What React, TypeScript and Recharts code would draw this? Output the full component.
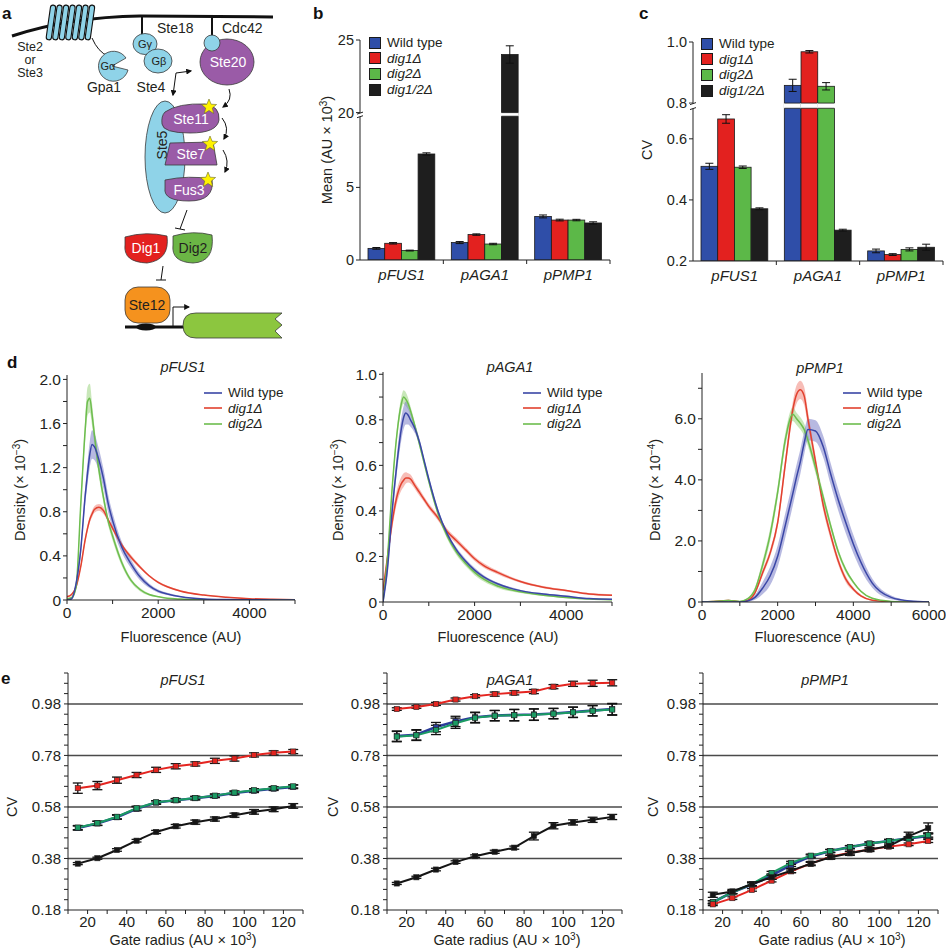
import React from 'react';
import {
  BarChart, Bar, XAxis, YAxis, ErrorBar, Legend, ComposedChart, Area, Line, LineChart, ReferenceLine,
} from 'recharts';

const FONT = '"Liberation Sans", Arial, Helvetica, sans-serif';
const TXT = '#231f20';

// ---------------- panels b & c ----------------
const promoters = ['pFUS1', 'pAGA1', 'pPMP1'];
const strainNames = ['Wild type', 'dig1Δ', 'dig2Δ', 'dig1/2Δ'];
const barColors = ['#2f4ea8', '#e3211f', '#5cb848', '#1e1e1e'];

const meanWT = [0.8, 1.2, 3.0];
const meanDig1 = [1.15, 1.75, 2.75];
const meanDig2 = [0.65, 1.1, 2.75];
const meanDig12 = [7.3, 24.0, 2.55];
const meanErrWT = [0.06, 0.07, 0.1];
const meanErrDig1 = [0.05, 0.05, 0.06];
const meanErrDig2 = [0.03, 0.05, 0.05];
const meanErrDig12 = [0.08, 0.6, 0.08];
const meanTickLabels = [0, 5, 20, 25];

const cvWT = [0.51, 0.858, 0.233];
const cvDig1 = [0.665, 0.968, 0.221];
const cvDig2 = [0.507, 0.855, 0.238];
const cvDig12 = [0.371, 0.301, 0.245];
const cvErrWT = [0.01, 0.02, 0.006];
const cvErrDig1 = [0.014, 0.004, 0.003];
const cvErrDig2 = [0.004, 0.012, 0.005];
const cvErrDig12 = [0.003, 0.003, 0.01];
const cvTickLabels = [0.2, 0.4, 0.6, 0.8, 1.0];

// broken axes
const B_OFF = 9.85; // values >= 20 are shifted down by this
const B_GAP_LO = 9.9;
const B_GAP_HI = 10.15;
const brkB = (v: number) => (v >= 20 ? v - B_OFF : v);
const C_OFF = 0.083;
const C_GAP_LO = 0.7;
const C_GAP_HI = 0.717;
const brkC = (v: number) => (v >= 0.8 ? v - C_OFF : v);

const keys = ['wt', 'd1', 'd2', 'd12'];

const rowsB = promoters.map((p, i) => ({
  p,
  wt: brkB(meanWT[i]), wtE: meanErrWT[i],
  d1: brkB(meanDig1[i]), d1E: meanErrDig1[i],
  d2: brkB(meanDig2[i]), d2E: meanErrDig2[i],
  d12: brkB(meanDig12[i]), d12E: meanErrDig12[i],
}));
const rowsC = promoters.map((p, i) => ({
  p,
  wt: brkC(cvWT[i]), wtE: cvErrWT[i],
  d1: brkC(cvDig1[i]), d1E: cvErrDig1[i],
  d2: brkC(cvDig2[i]), d2E: cvErrDig2[i],
  d12: brkC(cvDig12[i]), d12E: cvErrDig12[i],
}));

// ---------------- panel d ----------------
const densNames = ['Wild type', 'dig1Δ', 'dig2Δ'];
const densColors = ['#3a46a6', '#e2412f', '#6dbd4e'];
const densBand = ['#6f74c4', '#ef7b70', '#92cf73'];

const fusX = [0, 100, 200, 300, 400, 450, 500, 550, 600, 700, 800, 900, 1000, 1200, 1400, 1600, 1800, 2000, 2200, 2500, 3000, 3500, 4000, 4500, 5000];
const fusWT = [0, 0.01, 0.15, 0.45, 0.95, 1.15, 1.32, 1.41, 1.39, 1.27, 1.1, 0.88, 0.72, 0.48, 0.33, 0.21, 0.13, 0.08, 0.055, 0.03, 0.01, 0.004, 0.002, 0.001, 0];
const fusWTbw = [0, 0.01, 0.03, 0.05, 0.08, 0.1, 0.12, 0.13, 0.12, 0.1, 0.09, 0.08, 0.07, 0.05, 0.04, 0.03, 0.02, 0.015, 0.01, 0.005, 0.003, 0, 0, 0, 0];
const fusD1 = [0.03, 0.05, 0.12, 0.3, 0.55, 0.65, 0.73, 0.78, 0.82, 0.84, 0.81, 0.73, 0.65, 0.5, 0.39, 0.3, 0.22, 0.16, 0.12, 0.08, 0.045, 0.025, 0.012, 0.006, 0.003];
const fusD1bw = [0.01, 0.01, 0.02, 0.02, 0.03, 0.03, 0.03, 0.03, 0.03, 0.03, 0.03, 0.02, 0.02, 0.02, 0.02, 0.015, 0.01, 0.01, 0.01, 0.008, 0.005, 0.004, 0.003, 0.002, 0.002];
const fusD2 = [0.01, 0.02, 0.12, 0.85, 1.55, 1.8, 1.83, 1.68, 1.5, 1.18, 0.93, 0.72, 0.58, 0.34, 0.18, 0.095, 0.05, 0.03, 0.015, 0.008, 0.003, 0.001, 0, 0, 0];
const fusD2bw = [0, 0.01, 0.03, 0.06, 0.09, 0.13, 0.13, 0.1, 0.08, 0.06, 0.05, 0.04, 0.04, 0.03, 0.02, 0.015, 0.01, 0.005, 0, 0, 0, 0, 0, 0, 0];

const agaX = [0, 100, 200, 300, 400, 450, 500, 550, 600, 700, 800, 900, 1000, 1200, 1400, 1600, 1800, 2000, 2200, 2500, 3000, 3500, 4000, 4500, 5000];
const agaWT = [0, 0.15, 0.4, 0.6, 0.76, 0.81, 0.83, 0.82, 0.8, 0.76, 0.7, 0.62, 0.54, 0.4, 0.3, 0.23, 0.18, 0.14, 0.11, 0.08, 0.05, 0.035, 0.025, 0.015, 0.012];
const agaWTbw = [0, 0.02, 0.03, 0.04, 0.05, 0.05, 0.05, 0.04, 0.03, 0.02, 0.015, 0.01, 0.01, 0.01, 0.01, 0.01, 0.01, 0.01, 0.008, 0.006, 0.004, 0.003, 0.003, 0.002, 0.002];
const agaD1 = [0.05, 0.2, 0.35, 0.46, 0.52, 0.535, 0.545, 0.545, 0.54, 0.51, 0.48, 0.45, 0.42, 0.37, 0.31, 0.27, 0.23, 0.19, 0.16, 0.13, 0.09, 0.065, 0.05, 0.035, 0.03];
const agaD1bw = [0.01, 0.02, 0.03, 0.03, 0.03, 0.03, 0.025, 0.02, 0.02, 0.015, 0.015, 0.012, 0.012, 0.012, 0.012, 0.012, 0.01, 0.01, 0.01, 0.008, 0.006, 0.005, 0.004, 0.004, 0.004];
const agaD2 = [0, 0.2, 0.5, 0.73, 0.87, 0.9, 0.89, 0.87, 0.84, 0.77, 0.69, 0.61, 0.53, 0.39, 0.29, 0.22, 0.17, 0.13, 0.1, 0.07, 0.045, 0.03, 0.02, 0.013, 0.01];
const agaD2bw = [0, 0.02, 0.02, 0.025, 0.03, 0.03, 0.03, 0.025, 0.02, 0.015, 0.015, 0.012, 0.012, 0.012, 0.012, 0.012, 0.012, 0.012, 0.01, 0.008, 0.006, 0.004, 0.003, 0.002, 0.002];

const pmpX = [0, 500, 700, 1000, 1200, 1400, 1600, 1800, 2000, 2200, 2400, 2500, 2600, 2700, 2800, 3000, 3200, 3400, 3600, 3800, 4000, 4200, 4500, 5000, 5500, 6000];
const pmpWT = [0, 0, 0, 0, 0.03, 0.15, 0.45, 0.85, 1.5, 2.5, 3.55, 4.1, 4.6, 5.2, 5.65, 5.6, 5.1, 4.2, 3.35, 2.6, 1.9, 1.3, 0.62, 0.15, 0.03, 0];
const pmpWTbw = [0, 0, 0, 0, 0.02, 0.08, 0.2, 0.3, 0.35, 0.4, 0.4, 0.4, 0.4, 0.38, 0.35, 0.35, 0.35, 0.35, 0.35, 0.35, 0.3, 0.25, 0.15, 0.06, 0.02, 0];
const pmpD1 = [0, 0.03, 0.05, 0.01, 0.05, 0.3, 0.95, 1.6, 2.6, 4.5, 6.3, 6.8, 6.95, 6.75, 6.0, 4.6, 3.2, 2.2, 1.35, 0.75, 0.42, 0.2, 0.06, 0.01, 0, 0];
const pmpD1bw = [0, 0.02, 0.02, 0.01, 0.02, 0.05, 0.1, 0.12, 0.15, 0.2, 0.25, 0.3, 0.3, 0.3, 0.25, 0.2, 0.18, 0.15, 0.12, 0.1, 0.06, 0.04, 0.02, 0, 0, 0];
const pmpD2 = [0, 0.03, 0.05, 0.02, 0.1, 0.4, 1.2, 2.2, 3.6, 5.3, 6.15, 6.0, 5.85, 5.65, 5.3, 4.4, 3.45, 2.5, 1.65, 1.05, 0.65, 0.35, 0.12, 0.02, 0, 0];
const pmpD2bw = [0, 0.02, 0.02, 0.01, 0.03, 0.08, 0.15, 0.2, 0.2, 0.22, 0.22, 0.2, 0.2, 0.2, 0.2, 0.18, 0.15, 0.12, 0.1, 0.08, 0.05, 0.03, 0.02, 0, 0, 0];

// ---------------- panel e ----------------
const gate = [15, 25, 35, 45, 55, 65, 75, 85, 95, 105, 115, 125];
const eColors = ['#2b3c9a', '#e42520', '#1b9b63', '#151515'];
const eMajorTicks = [0.18, 0.38, 0.58, 0.78, 0.98];
const eGrid = [0.38, 0.58, 0.78, 0.98];

const eFusWT = [0.498, 0.516, 0.54, 0.573, 0.597, 0.606, 0.614, 0.623, 0.634, 0.643, 0.651, 0.658];
const eFusD1 = [0.653, 0.663, 0.684, 0.704, 0.724, 0.738, 0.747, 0.759, 0.768, 0.782, 0.79, 0.795];
const eFusD2 = [0.5, 0.517, 0.542, 0.575, 0.598, 0.606, 0.615, 0.624, 0.636, 0.645, 0.653, 0.66];
const eFusD12 = [0.36, 0.381, 0.413, 0.449, 0.483, 0.505, 0.521, 0.533, 0.548, 0.561, 0.571, 0.584];
const eFusErrWT = [0.008, 0.008, 0.008, 0.008, 0.007, 0.007, 0.007, 0.007, 0.007, 0.007, 0.007, 0.007];
const eFusErrD1 = [0.02, 0.016, 0.012, 0.01, 0.01, 0.01, 0.008, 0.01, 0.01, 0.008, 0.008, 0.008];
const eFusErrD2 = [0.008, 0.008, 0.008, 0.008, 0.006, 0.006, 0.006, 0.006, 0.006, 0.006, 0.006, 0.006];
const eFusErrD12 = [0.004, 0.004, 0.005, 0.005, 0.006, 0.007, 0.008, 0.008, 0.008, 0.009, 0.009, 0.009];

const eAgaWT = [0.855, 0.86, 0.89, 0.912, 0.928, 0.935, 0.937, 0.939, 0.943, 0.948, 0.954, 0.96];
const eAgaD1 = [0.96, 0.968, 0.98, 0.997, 1.01, 1.018, 1.023, 1.028, 1.047, 1.058, 1.06, 1.062];
const eAgaD2 = [0.853, 0.858, 0.879, 0.905, 0.926, 0.934, 0.936, 0.938, 0.942, 0.947, 0.953, 0.958];
const eAgaD12 = [0.283, 0.307, 0.337, 0.366, 0.389, 0.406, 0.422, 0.467, 0.507, 0.52, 0.53, 0.541];
const eAgaErrWT = [0.02, 0.02, 0.018, 0.02, 0.02, 0.02, 0.022, 0.022, 0.02, 0.02, 0.02, 0.022];
const eAgaErrD1 = [0.005, 0.005, 0.006, 0.006, 0.006, 0.008, 0.008, 0.008, 0.008, 0.01, 0.012, 0.012];
const eAgaErrD2 = [0.02, 0.02, 0.018, 0.02, 0.02, 0.02, 0.022, 0.022, 0.02, 0.02, 0.02, 0.022];
const eAgaErrD12 = [0.004, 0.004, 0.005, 0.005, 0.005, 0.006, 0.006, 0.015, 0.012, 0.01, 0.01, 0.01];

const ePmpWT = [0.21, 0.249, 0.279, 0.314, 0.355, 0.388, 0.409, 0.424, 0.438, 0.448, 0.458, 0.467];
const ePmpD1 = [0.202, 0.226, 0.258, 0.294, 0.33, 0.36, 0.387, 0.402, 0.415, 0.426, 0.435, 0.448];
const ePmpD2 = [0.21, 0.249, 0.281, 0.324, 0.363, 0.391, 0.409, 0.424, 0.438, 0.448, 0.458, 0.471];
const ePmpD12 = [0.239, 0.252, 0.281, 0.307, 0.333, 0.36, 0.385, 0.4, 0.415, 0.428, 0.467, 0.498];
const ePmpErrWT = [0.006, 0.006, 0.006, 0.006, 0.006, 0.006, 0.006, 0.006, 0.006, 0.006, 0.006, 0.008];
const ePmpErrD1 = [0.005, 0.005, 0.005, 0.005, 0.005, 0.005, 0.005, 0.005, 0.005, 0.005, 0.005, 0.006];
const ePmpErrD2 = [0.006, 0.006, 0.006, 0.006, 0.006, 0.006, 0.006, 0.006, 0.006, 0.006, 0.006, 0.008];
const ePmpErrD12 = [0.01, 0.008, 0.008, 0.008, 0.008, 0.008, 0.008, 0.008, 0.008, 0.008, 0.015, 0.02];

// ---------------- helpers ----------------
const clampLo = (v: number) => (v < 0 ? 0 : v);
function densRows(xs: number[], wt: number[], wtb: number[], d1: number[], d1b: number[], d2: number[], d2b: number[]) {
  return xs.map((x, i) => ({
    x,
    wt: wt[i], wtB: [clampLo(wt[i] - wtb[i]), wt[i] + wtb[i]],
    d1: d1[i], d1B: [clampLo(d1[i] - d1b[i]), d1[i] + d1b[i]],
    d2: d2[i], d2B: [clampLo(d2[i] - d2b[i]), d2[i] + d2b[i]],
  }));
}
const rowsDFus = densRows(fusX, fusWT, fusWTbw, fusD1, fusD1bw, fusD2, fusD2bw);
const rowsDAga = densRows(agaX, agaWT, agaWTbw, agaD1, agaD1bw, agaD2, agaD2bw);
const rowsDPmp = densRows(pmpX, pmpWT, pmpWTbw, pmpD1, pmpD1bw, pmpD2, pmpD2bw);

function eRows(wt: number[], d1: number[], d2: number[], d12: number[], ewt: number[], ed1: number[], ed2: number[], ed12: number[]) {
  return gate.map((g, i) => ({
    g, wt: wt[i], wtE: ewt[i], d1: d1[i], d1E: ed1[i], d2: d2[i], d2E: ed2[i], d12: d12[i], d12E: ed12[i],
  }));
}
const rowsEFus = eRows(eFusWT, eFusD1, eFusD2, eFusD12, eFusErrWT, eFusErrD1, eFusErrD2, eFusErrD12);
const rowsEAga = eRows(eAgaWT, eAgaD1, eAgaD2, eAgaD12, eAgaErrWT, eAgaErrD1, eAgaErrD2, eAgaErrD12);
const rowsEPmp = eRows(ePmpWT, ePmpD1, ePmpD2, ePmpD12, ePmpErrWT, ePmpErrD1, ePmpErrD2, ePmpErrD12);

const axisStroke = { stroke: '#222', strokeWidth: 1 };

function makeBreakYTick(pos: number[], labels: string[], breakPos: number, gapPx: number) {
  return (props: any) => {
    const { x, y, payload } = props;
    const i = pos.findIndex((p) => Math.abs(p - payload.value) < 1e-6);
    const ax = x + 6;
    const isBreak = Math.abs(payload.value - breakPos) < 1e-6;
    return (
      <g>
        <text x={x} y={y} dy="0.35em" textAnchor="end" fontSize={14.5} fill={TXT} fontFamily={FONT}>{i >= 0 ? labels[i] : ''}</text>
        {isBreak && (
          <g>
            <rect x={ax - 3} y={y + 0.5} width={6} height={gapPx} fill="#fff" />
            <path d={`M${ax - 3},${y + 1.5} L${ax + 3},${y - 0.5}`} stroke="#222" strokeWidth={1} />
            <path d={`M${ax - 3},${y + gapPx + 1.5} L${ax + 3},${y + gapPx - 0.5}`} stroke="#222" strokeWidth={1} />
          </g>
        )}
      </g>
    );
  };
}

const BAND = 250 / 3;
const catTick = (props: any) => {
  const { x, y, payload, index } = props;
  return (
    <g>
      <text x={x} y={y + 20} textAnchor="middle" fontStyle="italic" fontSize={15} fill={TXT} fontFamily={FONT}>{payload.value}</text>
      {index > 0 && <line x1={x - BAND / 2} x2={x - BAND / 2} y1={y} y2={y + 4} stroke="#222" strokeWidth={1} />}
      {index === 2 && <line x1={x + BAND / 2} x2={x + BAND / 2} y1={y} y2={y + 4} stroke="#222" strokeWidth={1} />}
    </g>
  );
};

function makeBreakShape(key: string, base: number, lo: number, hi: number) {
  return (props: any) => {
    const { x, y, width, height, fill, payload } = props;
    const v = payload[key];
    const parts: any[] = [
      <rect key="r" x={x} y={y} width={width} height={height} fill={fill} stroke="#1a1a1a" strokeWidth={0.8} />,
    ];
    if (v > hi && height > 0) {
      const ppu = height / (v - base);
      const yb = y + height - (lo - base) * ppu;
      const yt = y + height - (hi - base) * ppu;
      parts.push(<rect key="g" x={x - 0.6} y={yt} width={width + 1.2} height={yb - yt} fill="#fff" />);
      parts.push(<line key="l1" x1={x} x2={x + width} y1={yt} y2={yt} stroke="#1a1a1a" strokeWidth={0.8} />);
      parts.push(<line key="l2" x1={x} x2={x + width} y1={yb} y2={yb} stroke="#1a1a1a" strokeWidth={0.8} />);
    }
    return <g>{parts}</g>;
  };
}

const LEG_FS = 13.5;
const LEG_ROW = 15.6;

const SquareLegend = () => (
  <div style={{ fontFamily: FONT, fontSize: LEG_FS, color: TXT }}>
    {strainNames.map((n, i) => (
      <div key={n} style={{ display: 'flex', alignItems: 'center', height: LEG_ROW }}>
        <span style={{ display: 'inline-block', width: 10, height: 10, background: barColors[i], border: '0.8px solid #1a1a1a', marginRight: 6 }} />
        <span style={{ fontStyle: i === 0 ? 'normal' : 'italic', lineHeight: `${LEG_ROW}px` }}>{n}</span>
      </div>
    ))}
  </div>
);

const LineLegend = () => (
  <div style={{ fontFamily: FONT, fontSize: LEG_FS, color: TXT }}>
    {densNames.map((n, i) => (
      <div key={n} style={{ display: 'flex', alignItems: 'center', height: LEG_ROW }}>
        <svg width={18} height={4} style={{ marginRight: 6, display: 'block' }}>
          <line x1={0} y1={2} x2={18} y2={2} stroke={densColors[i]} strokeWidth={1.6} />
        </svg>
        <span style={{ fontStyle: i === 0 ? 'normal' : 'italic', lineHeight: `${LEG_ROW}px` }}>{n}</span>
      </div>
    ))}
  </div>
);

// ---------------- charts ----------------
function BarPanel({ rows, domain, tickPos, tickLabels, breakPos, gapPx, base, lo, hi, width, height, margin, yWidth, legendPos }: any) {
  return (
    <BarChart width={width} height={height} data={rows} margin={margin} barGap={0} barCategoryGap={0}>
      <XAxis dataKey="p" height={30} tickSize={0} tickMargin={0} tickLine={false} axisLine={axisStroke} tick={catTick} interval={0} />
      <YAxis width={yWidth} type="number" domain={domain} ticks={tickPos} interval={0} allowDataOverflow
        tickSize={4} tickMargin={2} tickLine={axisStroke} axisLine={axisStroke}
        tick={makeBreakYTick(tickPos, tickLabels, breakPos, gapPx)} />
      {keys.map((k, i) => (
        <Bar key={k} dataKey={k} fill={barColors[i]} barSize={16.7} isAnimationActive={false}
          shape={makeBreakShape(k, base, lo, hi)}>
          <ErrorBar dataKey={`${k}E`} width={4} stroke="#111" strokeWidth={1} />
        </Bar>
      ))}
      <Legend layout="vertical" align="center" verticalAlign="middle" content={() => <SquareLegend />}
        wrapperStyle={{ left: legendPos[0], top: legendPos[1], width: 'auto', height: 'auto' }} />
    </BarChart>
  );
}

const dTick = { fontSize: 15.5, fill: TXT, fontFamily: FONT };
const eTick = { fontSize: 15, fill: TXT, fontFamily: FONT };

function DensPanel({ rows, width, height, margin, yWidth, xDomain, xTicks, xLabels, yDomain, yTicks, yLabels, legendPos }: any) {
  const fmt = (list: number[], labels: string[]) => (v: number) => {
    const i = list.findIndex((t) => Math.abs(t - v) < 1e-6);
    return i >= 0 ? labels[i] : '';
  };
  const order = ['d1', 'd2', 'wt'];
  const idx: any = { wt: 0, d1: 1, d2: 2 };
  return (
    <ComposedChart width={width} height={height} data={rows} margin={margin}>
      <XAxis dataKey="x" type="number" domain={xDomain} ticks={xTicks} interval={0} height={40}
        tickFormatter={fmt(xLabels.pos, xLabels.text)} tick={dTick} tickSize={4} tickMargin={3}
        axisLine={axisStroke} tickLine={axisStroke} allowDataOverflow />
      <YAxis type="number" width={yWidth} domain={yDomain} ticks={yTicks} interval={0}
        tickFormatter={fmt(yLabels.pos, yLabels.text)} tick={dTick} tickSize={4} tickMargin={2}
        axisLine={axisStroke} tickLine={axisStroke} allowDataOverflow />
      {order.map((k) => (
        <Area key={`${k}B`} type="monotone" dataKey={`${k}B`} stroke="none" fill={densBand[idx[k]]}
          fillOpacity={0.5} isAnimationActive={false} />
      ))}
      {order.map((k) => (
        <Line key={k} type="monotone" dataKey={k} stroke={densColors[idx[k]]} strokeWidth={1.5} dot={false}
          isAnimationActive={false} />
      ))}
      <Legend layout="vertical" align="center" verticalAlign="middle" content={() => <LineLegend />}
        wrapperStyle={{ left: legendPos[0], top: legendPos[1], width: 'auto', height: 'auto' }} />
    </ComposedChart>
  );
}

const eXTicks = [10, 20, 30, 40, 50, 60, 70, 80, 90, 100, 110, 120, 130];
const eXLabels = [20, 40, 60, 80, 100, 120];
const eYTicks = Array.from({ length: 24 }, (_, k) => Math.round((0.18 + 0.04 * k) * 100) / 100);

function makeSquareDot(color: string) {
  return (props: any) => {
    const { cx, cy, index } = props;
    if (cx == null || cy == null) return <g key={`n${index}`} />;
    return <rect key={`s${index}`} x={cx - 2.6} y={cy - 2.6} width={5.2} height={5.2} fill={color} stroke="#222" strokeWidth={0.6} />;
  };
}

function EPanel({ rows, width, height, margin, yWidth }: any) {
  const order = [
    { k: 'wt', c: eColors[0], w: 2.6 },
    { k: 'd2', c: eColors[2], w: 2 },
    { k: 'd1', c: eColors[1], w: 2 },
    { k: 'd12', c: eColors[3], w: 2 },
  ];
  return (
    <LineChart width={width} height={height} data={rows} margin={margin}>
      <XAxis dataKey="g" type="number" domain={[10, 130]} ticks={eXTicks} interval={0} height={40}
        tickFormatter={(v: number) => (eXLabels.includes(v) ? String(v) : '')} tick={eTick}
        tickSize={4} tickMargin={2} axisLine={axisStroke} tickLine={axisStroke} allowDataOverflow />
      <YAxis type="number" width={yWidth} domain={[0.18, 1.1]} ticks={eYTicks} interval={0}
        tickFormatter={(v: number) => (eMajorTicks.some((t) => Math.abs(t - v) < 1e-6) ? v.toFixed(2) : '')}
        tick={eTick} tickSize={4} tickMargin={3} axisLine={axisStroke} tickLine={axisStroke} allowDataOverflow />
      {eGrid.map((g) => (
        <ReferenceLine key={g} y={g} stroke="#4a4a4a" strokeWidth={1.5} />
      ))}
      {order.map((s) => (
        <Line key={s.k} dataKey={s.k} stroke={s.c} strokeWidth={s.w} isAnimationActive={false}
          dot={makeSquareDot(s.c)}>
          <ErrorBar dataKey={`${s.k}E`} width={5} stroke="#111" strokeWidth={1.3} direction="y" />
        </Line>
      ))}
    </LineChart>
  );
}

// ---------------- diagram (panel a) ----------------
function star(cx: number, cy: number, R: number, r: number) {
  const pts: string[] = [];
  for (let i = 0; i < 10; i++) {
    const a = -Math.PI / 2 + (i * Math.PI) / 5;
    const rad = i % 2 === 0 ? R : r;
    pts.push(`${(cx + rad * Math.cos(a)).toFixed(1)},${(cy + rad * Math.sin(a)).toFixed(1)}`);
  }
  return pts.join(' ');
}

const LB = '#8fd3e8';
const PU = '#9a5ba7';
const OUT = '#3a3a3a';

function Diagram() {
  const helixX = [51, 57.5, 64, 70.5, 77, 83.5, 90];
  const t = { fontFamily: FONT, fill: TXT };
  return (
    <svg width={320} height={345} style={{ position: 'absolute', left: 0, top: 0 }}>
      <defs>
        <marker id="ah" viewBox="0 0 10 10" refX="8" refY="5" markerWidth="6" markerHeight="6" orient="auto-start-reverse">
          <path d="M0,0 L10,5 L0,10 z" fill="#111" />
        </marker>
      </defs>
      <path d="M12 36 Q 70 17 140 16 L 273 17" stroke="#111" strokeWidth={3} fill="none" />
      {helixX.map((x, i) => (
        <rect key={i} x={x - 2.6} y={5} width={5.2} height={35} rx={2.6} fill={LB} stroke="#111" strokeWidth={1.1}
          transform={`rotate(8 ${x} 22)`} />
      ))}
      <path d="M92 38 Q 98 52 108 56" stroke="#111" strokeWidth={1} fill="none" />
      <path d="M112 66 L126 58 A15 15 0 1 0 128 70 Z" fill={LB} stroke={OUT} strokeWidth={0.8} />
      <text x={108} y={70} fontSize={11} textAnchor="middle" {...t}>Gα</text>
      <text x={104} y={92} fontSize={14} textAnchor="middle" {...t}>Gpa1</text>
      <text x={30} y={51} fontSize={12.5} textAnchor="middle" {...t}>Ste2</text>
      <text x={30} y={64} fontSize={12.5} textAnchor="middle" {...t}>or</text>
      <text x={30} y={77} fontSize={12.5} textAnchor="middle" {...t}>Ste3</text>

      <line x1={142} y1={17} x2={142} y2={35} stroke="#111" strokeWidth={2} />
      <ellipse cx={145} cy={44} rx={12} ry={10.5} fill={LB} stroke={OUT} strokeWidth={0.8} />
      <ellipse cx={158} cy={61} rx={14} ry={12} fill={LB} stroke={OUT} strokeWidth={0.8} />
      <text x={145} y={48} fontSize={11} textAnchor="middle" {...t}>Gγ</text>
      <text x={159} y={65} fontSize={11} textAnchor="middle" {...t}>Gβ</text>
      <text x={157} y={33} fontSize={14} {...t}>Ste18</text>
      <text x={151} y={92} fontSize={14} textAnchor="middle" {...t}>Ste4</text>

      <line x1={212} y1={17} x2={212} y2={36} stroke="#111" strokeWidth={2} />
      <ellipse cx={227} cy={62} rx={27} ry={23} fill={PU} stroke={OUT} strokeWidth={0.8} />
      <circle cx={212} cy={43} r={8} fill={LB} stroke={OUT} strokeWidth={0.8} />
      <text x={222} y={33} fontSize={14} {...t}>Cdc42</text>
      <text x={228} y={67} fontSize={14} textAnchor="middle" fontFamily={FONT} fill="#fff">Ste20</text>

      <path d="M173 95 L176 73 L191 71" stroke="#111" strokeWidth={1} fill="none" markerStart="url(#ah)" markerEnd="url(#ah)" />
      <path d="M229 89 Q 233 100 223 107" stroke="#111" strokeWidth={1} fill="none" markerEnd="url(#ah)" />

      <ellipse cx={165} cy={157} rx={20} ry={56} fill={LB} stroke={OUT} strokeWidth={0.8} />
      <text x={0} y={0} fontSize={14} textAnchor="middle" transform="translate(167 145) rotate(-90)" {...t}>Ste5</text>

      <path d="M165 112 Q 178 103 205 104 Q 220 106 219 120 Q 217 133 190 133 Q 163 133 162 124 Q 161 116 165 112 Z" fill={PU} stroke={OUT} strokeWidth={0.8} />
      <text x={191} y={124} fontSize={14} textAnchor="middle" fontFamily={FONT} fill="#fff">Ste11</text>
      <polygon points="170,143 213,142 217,165 165,165" fill={PU} stroke={OUT} strokeWidth={0.8} />
      <text x={191} y={159} fontSize={14} textAnchor="middle" fontFamily={FONT} fill="#fff">Ste7</text>
      <path d="M165 180 Q 189 175 212 179 Q 215 201 189 201 Q 163 201 165 188 Z" fill={PU} stroke={OUT} strokeWidth={0.8} />
      <text x={189} y={195} fontSize={14} textAnchor="middle" fontFamily={FONT} fill="#fff">Fus3</text>
      <polygon points={star(209, 107, 8, 3.5)} fill="#fff200" stroke="#6b6b2a" strokeWidth={0.6} />
      <polygon points={star(210, 144, 8, 3.5)} fill="#fff200" stroke="#6b6b2a" strokeWidth={0.6} />
      <polygon points={star(208, 180, 8, 3.5)} fill="#fff200" stroke="#6b6b2a" strokeWidth={0.6} />
      <path d="M222 118 Q 230 128 224 139" stroke="#111" strokeWidth={1} fill="none" markerEnd="url(#ah)" />
      <path d="M223 150 Q 230 161 225 172" stroke="#111" strokeWidth={1} fill="none" markerEnd="url(#ah)" />

      <line x1={187} y1={210} x2={180} y2={229} stroke="#111" strokeWidth={1} />
      <line x1={175} y1={228} x2={185} y2={230} stroke="#111" strokeWidth={1} />
      <path d="M125 237 Q 146 231 167 236 Q 170 260 147 263 Q 123 262 125 245 Z" fill="#e3211f" stroke={OUT} strokeWidth={0.8} />
      <text x={146} y={253} fontSize={14} textAnchor="middle" fontFamily={FONT} fill="#fff">Dig1</text>
      <path d="M173 236 Q 193 230 212 235 Q 215 262 193 263 Q 171 262 173 245 Z" fill="#6bb545" stroke={OUT} strokeWidth={0.8} />
      <text x={193} y={253} fontSize={14} textAnchor="middle" {...t}>Dig2</text>
      <line x1={163} y1={266} x2={161} y2={280} stroke="#111" strokeWidth={1} />
      <line x1={156} y1={280} x2={166} y2={280} stroke="#111" strokeWidth={1} />

      <rect x={125} y={287} width={45} height={36} rx={13} fill="#f5921e" stroke={OUT} strokeWidth={0.8} />
      <text x={147} y={310} fontSize={14} textAnchor="middle" {...t}>Ste12</text>
      <line x1={125} y1={327} x2={187} y2={327} stroke="#111" strokeWidth={3} />
      <ellipse cx={146} cy={327} rx={10} ry={3.5} fill="#111" />
      <path d="M173 326 L173 307 L189 307" stroke="#111" strokeWidth={1} fill="none" markerEnd="url(#ah)" />
      <path d="M196 313 L282 313 L275 319 L282 325 L275 331 L282 338 L196 338 Q 183 338 183 325.5 Q 183 313 196 313 Z" fill="#8cc63f" stroke={OUT} strokeWidth={0.8} />
    </svg>
  );
}

// ---------------- text overlay ----------------
function Overlay() {
  const t = { fontFamily: FONT, fill: TXT, fontSize: 14.5 };
  const bold = { fontFamily: FONT, fill: '#111', fontSize: 17, fontWeight: 700 as any };
  return (
    <svg width={946} height={950} style={{ position: 'absolute', left: 0, top: 0, pointerEvents: 'none' }}>
      <text x={2} y={19} {...bold}>a</text>
      <text x={313} y={19} {...bold}>b</text>
      <text x={639} y={19} {...bold}>c</text>
      <text x={7} y={368} {...bold}>d</text>
      <text x={1} y={684} {...bold}>e</text>

      <text transform="translate(332 150) rotate(-90)" textAnchor="middle" {...t}>
        Mean (AU × 10<tspan dy={-5} fontSize={10}>3</tspan><tspan dy={5}>)</tspan>
      </text>
      <text transform="translate(652 150) rotate(-90)" textAnchor="middle" {...t}>CV</text>

      <text x={183} y={372} textAnchor="middle" fontStyle="italic" {...t}>pFUS1</text>
      <text x={510} y={372} textAnchor="middle" fontStyle="italic" {...t}>pAGA1</text>
      <text x={820} y={373} textAnchor="middle" fontStyle="italic" {...t}>pPMP1</text>
      {[[25, '3'], [343, '3'], [660, '4']].map(([x, e]: any) => (
        <text key={x} transform={`translate(${x} 490) rotate(-90)`} textAnchor="middle" {...t}>
          Density (× 10<tspan dy={-5} fontSize={10}>−{e}</tspan><tspan dy={5}>)</tspan>
        </text>
      ))}
      <text x={181} y={642} textAnchor="middle" {...t}>Fluorescence (AU)</text>
      <text x={498} y={642} textAnchor="middle" {...t}>Fluorescence (AU)</text>
      <text x={815} y={642} textAnchor="middle" {...t}>Fluorescence (AU)</text>

      <text x={183} y={685} textAnchor="middle" fontStyle="italic" {...t}>pFUS1</text>
      <text x={510} y={685} textAnchor="middle" fontStyle="italic" {...t}>pAGA1</text>
      <text x={825} y={685} textAnchor="middle" fontStyle="italic" {...t}>pPMP1</text>
      {[[17, 807], [338, 807], [658, 807]].map(([x, y]) => (
        <text key={x} transform={`translate(${x} ${y}) rotate(-90)`} textAnchor="middle" {...t}>CV</text>
      ))}
      {[183, 507, 832].map((x) => (
        <text key={x} x={x} y={945} textAnchor="middle" {...t}>
          Gate radius (AU × 10<tspan dy={-5} fontSize={10}>3</tspan><tspan dy={5}>)</tspan>
        </text>
      ))}
    </svg>
  );
}

export default function App() {
  return (
    <div style={{ position: 'absolute', left: 0, top: 0, width: 946, height: 950, background: '#fff', overflow: 'hidden', fontFamily: FONT, color: TXT }}>
      <Diagram />
      <div style={{ position: 'absolute', left: 320, top: 0 }}>
        <BarPanel rows={rowsB} width={300} height={290} margin={{ top: 40, right: 10, left: 0, bottom: 0 }} yWidth={40}
          domain={[0, brkB(25)]} tickPos={meanTickLabels.map(brkB)} tickLabels={meanTickLabels.map(String)}
          breakPos={brkB(20)} gapPx={3.6} base={0} lo={B_GAP_LO} hi={B_GAP_HI} legendPos={[49, 35]} />
      </div>
      <div style={{ position: 'absolute', left: 640, top: 0 }}>
        <BarPanel rows={rowsC} width={306} height={291} margin={{ top: 42, right: 3, left: 0, bottom: 0 }} yWidth={53}
          domain={[0.2, brkC(1.0)]} tickPos={cvTickLabels.map(brkC)} tickLabels={cvTickLabels.map((v) => v.toFixed(1))}
          breakPos={brkC(0.8)} gapPx={5} base={0.2} lo={C_GAP_LO} hi={C_GAP_HI} legendPos={[61, 36]} />
      </div>

      <div style={{ position: 'absolute', left: 0, top: 370 }}>
        <DensPanel rows={rowsDFus} width={310} height={270} margin={{ top: 5, right: 15, left: 0, bottom: 0 }} yWidth={67}
          xDomain={[0, 5000]} xTicks={[0, 1000, 2000, 3000, 4000, 5000]} xLabels={{ pos: [0, 2000, 4000], text: ['0', '2000', '4000'] }}
          yDomain={[0, 2.04]} yTicks={[0, 0.2, 0.4, 0.6, 0.8, 1.0, 1.2, 1.4, 1.6, 1.8, 2.0]}
          yLabels={{ pos: [0, 0.4, 0.8, 1.2, 1.6, 2.0], text: ['0', '0.4', '0.8', '1.2', '1.6', '2.0'] }} legendPos={[204, 15]} />
      </div>
      <div style={{ position: 'absolute', left: 320, top: 367 }}>
        <DensPanel rows={rowsDAga} width={305} height={275} margin={{ top: 5, right: 13, left: 0, bottom: 0 }} yWidth={63}
          xDomain={[0, 5000]} xTicks={[0, 1000, 2000, 3000, 4000, 5000]} xLabels={{ pos: [0, 2000, 4000], text: ['0', '2000', '4000'] }}
          yDomain={[0, 1.01]} yTicks={[0, 0.1, 0.2, 0.3, 0.4, 0.5, 0.6, 0.7, 0.8, 0.9, 1.0]}
          yLabels={{ pos: [0, 0.2, 0.4, 0.6, 0.8, 1.0], text: ['0', '0.2', '0.4', '0.6', '0.8', '1.0'] }} legendPos={[203, 18]} />
      </div>
      <div style={{ position: 'absolute', left: 640, top: 368 }}>
        <DensPanel rows={rowsDPmp} width={306} height={274} margin={{ top: 5, right: 17, left: 0, bottom: 0 }} yWidth={62}
          xDomain={[0, 6000]} xTicks={[0, 1000, 2000, 3000, 4000, 5000, 6000]} xLabels={{ pos: [0, 2000, 4000, 6000], text: ['0', '2000', '4000', '6000'] }}
          yDomain={[0, 7.5]} yTicks={[0, 1, 2, 3, 4, 5, 6, 7]}
          yLabels={{ pos: [0, 2, 4, 6], text: ['0', '2.0', '4.0', '6.0'] }} legendPos={[203, 17]} />
      </div>

      <div style={{ position: 'absolute', left: 0, top: 668 }}>
        <EPanel rows={rowsEFus} width={310} height={282} margin={{ top: 5, right: 7, left: 0, bottom: 0 }} yWidth={68} />
      </div>
      <div style={{ position: 'absolute', left: 320, top: 668 }}>
        <EPanel rows={rowsEAga} width={310} height={282} margin={{ top: 5, right: 8, left: 0, bottom: 0 }} yWidth={67} />
      </div>
      <div style={{ position: 'absolute', left: 640, top: 668 }}>
        <EPanel rows={rowsEPmp} width={306} height={282} margin={{ top: 5, right: 8, left: 0, bottom: 0 }} yWidth={63} />
      </div>
      <Overlay />
    </div>
  );
}
